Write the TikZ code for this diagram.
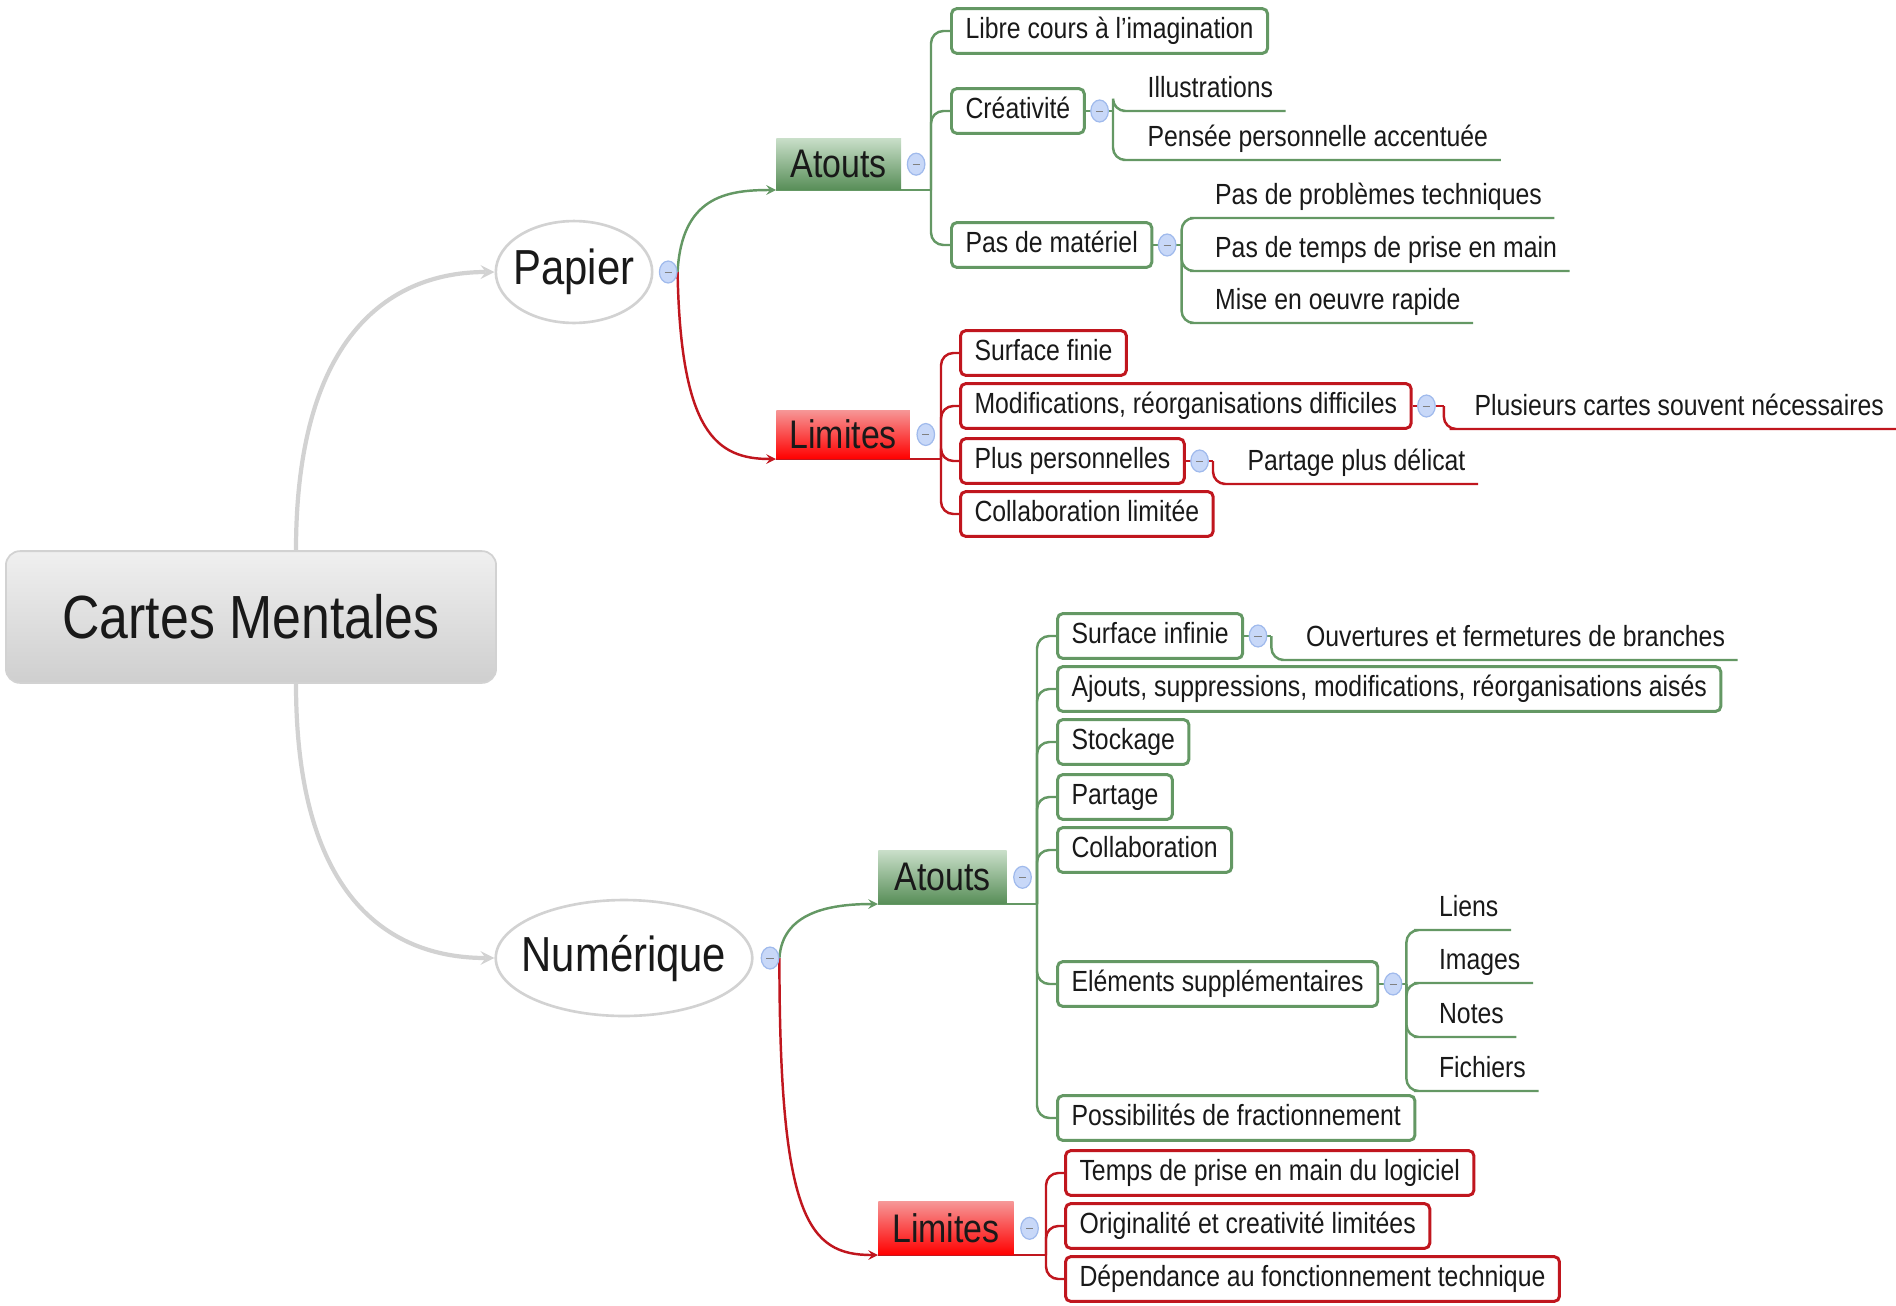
\documentclass[tikz,border=0pt]{standalone}
\usepackage{fontspec}
\setmainfont{Liberation Sans}[FakeStretch=0.85]
\usetikzlibrary{shapes.geometric,calc,positioning,backgrounds}

\definecolor{xgreen}{RGB}{100,152,100}
\definecolor{xgreenL}{RGB}{200,222,200}
\definecolor{xgreenD}{RGB}{88,142,88}
\definecolor{xred}{RGB}{192,22,30}
\definecolor{xredL}{RGB}{246,150,150}
\definecolor{xgray}{RGB}{210,210,210}
\definecolor{xblue}{RGB}{160,186,236}
\definecolor{xblueF}{RGB}{200,216,248}
\definecolor{ink}{RGB}{25,25,25}

\tikzset{
  every node/.style={text=ink, font=\fontsize{16.6}{19}\selectfont},
  link/.style={draw=xgray, line width=2.4pt, ->, >=stealth},
  gline/.style={draw=xgreen, line width=1.4pt, >=stealth},
  rline/.style={draw=xred, line width=1.4pt, >=stealth},
  root/.style={draw=xgray, line width=1pt, rounded corners=8pt, top color=gray!12, bottom color=gray!38,
    minimum width=279pt, minimum height=75pt, font=\fontsize{34.7}{40}\selectfont},
  topic/.style={ellipse, draw=xgray, line width=1.5pt, fill=white, inner sep=0pt},
  ttl/.style={font=\fontsize{28}{32}\selectfont},
  abox/.style={anchor=south west, top color=xgreenL, bottom color=xgreenD, minimum height=29pt,
    inner sep=0pt, font=\fontsize{22.7}{26}\selectfont},
  lbox/.style={abox, top color=xredL, bottom color=red},
  gbox/.style={draw=xgreen, line width=1.7pt, rounded corners=3pt, fill=white, anchor=west,
    inner xsep=8pt, inner ysep=5pt, text height=12pt, text depth=3.5pt},
  rbox/.style={gbox, draw=xred},
  leaf/.style={anchor=south west, inner xsep=7pt, inner ysep=4pt, text height=12pt, text depth=3.5pt},
  fold/.style={ellipse, draw=xblue, fill=xblueF, line width=0.7pt, minimum width=10pt, minimum height=12.5pt,
    inner sep=0pt,
    path picture={\draw[gray, line width=0.5pt] ([xshift=-2pt]path picture bounding box.center)
      -- ([xshift=2pt]path picture bounding box.center);}}
}

\begin{document}
\begin{tikzpicture}[x=0.02cm, y=-0.02cm]
    \useasboundingbox (0,0) rectangle (1896,1305);

    % Centre and the two sides
    \node[root] (root) at (251,617) {Cartes Mentales};
    \node[topic, minimum width=89pt, minimum height=58pt, label={[ttl]center:Papier}] (pap) at (574,272) {};
    \node[topic, minimum width=146pt, minimum height=66pt, label={[ttl]center:Numérique}] (num) at (624,958) {};
    \node[fold, right=3pt of pap] (fPa) {};
    \node[fold, right=4pt of num] (fNu) {};

    % Papier
    \node[abox, minimum width=71pt] (atp) at (776,190) {Atouts};
    \node[lbox, minimum width=76pt, minimum height=27.5pt] (lip) at (776,459) {Limites};
    \node[fold, right=3pt of atp] (fA1) {};
    \node[fold, right=3.5pt of lip] (fL1) {};
    \coordinate (jA1) at ($(atp.south west)+(155,0)$);
    \coordinate (jL1) at ($(lip.south west)+(165,0)$);

    \node[gbox] (lib) at ($(jA1)+(19,-159)$) {Libre cours à l'imagination};
    \node[gbox] (cre) at ($(jA1)+(19,-79)$) {Créativité};
    \node[gbox] (pdm) at ($(jA1)+(19,55)$) {Pas de matériel};

    \node[fold, right=2.5pt of cre] (fCr) {};
    \coordinate (jCr) at ($(fCr.east)+(4,0)$);
    \node[leaf] (ill) at ($(jCr)+(22,0)$) {Illustrations};
    \node[leaf] (pen) at ($(jCr)+(22,49)$) {Pensée personnelle accentuée};

    \node[fold, right=2.5pt of pdm] (fPm) {};
    \coordinate (jPm) at ($(fPm.east)+(5,0)$);
    \node[leaf] (pdp) at ($(jPm)+(21,-27)$) {Pas de problèmes techniques};
    \node[leaf] (ptp) at ($(jPm)+(21,26)$) {Pas de temps de prise en main};
    \node[leaf] (mie) at ($(jPm)+(21,78)$) {Mise en oeuvre rapide};

    \node[rbox] (sfi) at ($(jL1)+(18,-106)$) {Surface finie};
    \node[rbox] (mod) at ($(jL1)+(18,-53)$) {Modifications, réorganisations difficiles};
    \node[rbox] (ppe) at ($(jL1)+(18,2)$) {Plus personnelles};
    \node[rbox] (col) at ($(jL1)+(18,55)$) {Collaboration limitée};

    \node[fold, right=2.5pt of mod] (fMo) {};
    \coordinate (jMo) at ($(fMo.east)+(8,0)$);
    \node[leaf] (plc) at ($(jMo)+(18,23)$) {Plusieurs cartes souvent nécessaires};

    \node[fold, right=2.5pt of ppe] (fPp) {};
    \coordinate (jPp) at ($(fPp.east)+(4,0)$);
    \node[leaf] (pde) at ($(jPp)+(22,23)$) {Partage plus délicat};

    % Numérique
    \node[abox, minimum width=73pt, minimum height=30pt] (atn) at (878,904) {Atouts};
    \node[lbox, minimum width=77pt, minimum height=30pt] (lin) at (878,1255) {Limites};
    \node[fold, right=3.5pt of atn] (fA2) {};
    \node[fold, right=3.5pt of lin] (fL2) {};
    \coordinate (jA2) at ($(atn.south west)+(159,0)$);
    \coordinate (jL2) at ($(lin.south west)+(168,0)$);

    \node[gbox] (sin) at ($(jA2)+(19,-268)$) {Surface infinie};
    \node[gbox] (ajo) at ($(jA2)+(19,-215)$) {Ajouts, suppressions, modifications, réorganisations aisés};
    \node[gbox] (sto) at ($(jA2)+(19,-162)$) {Stockage};
    \node[gbox] (par) at ($(jA2)+(19,-107)$) {Partage};
    \node[gbox] (clb) at ($(jA2)+(19,-54)$) {Collaboration};
    \node[gbox] (ele) at ($(jA2)+(19,80)$) {Eléments supplémentaires};
    \node[gbox] (pos) at ($(jA2)+(19,214)$) {Possibilités de fractionnement};

    \node[fold, right=2.5pt of sin] (fSi) {};
    \coordinate (jSi) at ($(fSi.east)+(4,0)$);
    \node[leaf] (ouv) at ($(jSi)+(22,24)$) {Ouvertures et fermetures de branches};

    \node[fold, right=2.5pt of ele] (fEl) {};
    \coordinate (jEl) at ($(fEl.east)+(4,0)$);
    \node[leaf] (lie) at ($(jEl)+(20,-54)$) {Liens};
    \node[leaf] (ima) at ($(jEl)+(20,-1)$) {Images};
    \node[leaf] (nts) at ($(jEl)+(20,53)$) {Notes};
    \node[leaf] (fic) at ($(jEl)+(20,107)$) {Fichiers};

    \node[rbox] (tps) at ($(jL2)+(18,-82)$) {Temps de prise en main du logiciel};
    \node[rbox] (ori) at ($(jL2)+(18,-29)$) {Originalité et creativité limitées};
    \node[rbox] (dep) at ($(jL2)+(18,24)$) {Dépendance au fonctionnement technique};

    % Connectors
    \begin{scope}[on background layer]
        \draw[link] ($(root.north)+(45,0)$) .. controls +(0,-220) and +(-100,0) .. (pap.west);
        \draw[link] ($(root.south)+(45,0)$) .. controls +(0,220) and +(-100,0) .. (num.west);

        \draw[gline,->] (fPa.east) .. controls +(4,-75) and +(-50,0) .. (atp.south west);
        \draw[rline,->] (fPa.east) .. controls +(3,160) and +(-60,0) .. (lip.south west);
        \draw[gline] (atp.south west) -- (jA1);
        \draw[rline] (lip.south west) -- (jL1);
        \foreach \k in {lib,cre,pdm} \draw[gline, rounded corners=7pt] (jA1) |- (\k.west);
        \foreach \k in {sfi,mod,ppe,col} \draw[rline, rounded corners=7pt] (jL1) |- (\k.west);

        \draw[gline] (cre.east) -- (jCr);
        \foreach \k in {ill,pen} \draw[gline, rounded corners=7pt] (jCr) |- (\k.south west) -- (\k.south east);
        \draw[gline] (pdm.east) -- (jPm);
        \foreach \k in {pdp,ptp,mie} \draw[gline, rounded corners=7pt] (jPm) |- (\k.south west) -- (\k.south east);
        \draw[rline] (mod.east) -- (jMo);
        \draw[rline, rounded corners=7pt] (jMo) |- (plc.south west) -- (plc.south east);
        \draw[rline] (ppe.east) -- (jPp);
        \draw[rline, rounded corners=7pt] (jPp) |- (pde.south west) -- (pde.south east);

        \draw[gline,->] (fNu.east) .. controls +(3,-45) and +(-50,0) .. (atn.south west);
        \draw[rline,->] (fNu.east) .. controls +(0,260) and +(-70,0) .. (lin.south west);
        \draw[gline] (atn.south west) -- (jA2);
        \draw[rline] (lin.south west) -- (jL2);
        \foreach \k in {sin,ajo,sto,par,clb,ele,pos} \draw[gline, rounded corners=7pt] (jA2) |- (\k.west);
        \foreach \k in {tps,ori,dep} \draw[rline, rounded corners=7pt] (jL2) |- (\k.west);

        \draw[gline] (sin.east) -- (jSi);
        \draw[gline, rounded corners=7pt] (jSi) |- (ouv.south west) -- (ouv.south east);
        \draw[gline] (ele.east) -- (jEl);
        \foreach \k in {lie,ima,nts,fic} \draw[gline, rounded corners=7pt] (jEl) |- (\k.south west) -- (\k.south east);
    \end{scope}

\end{tikzpicture}
\end{document}
